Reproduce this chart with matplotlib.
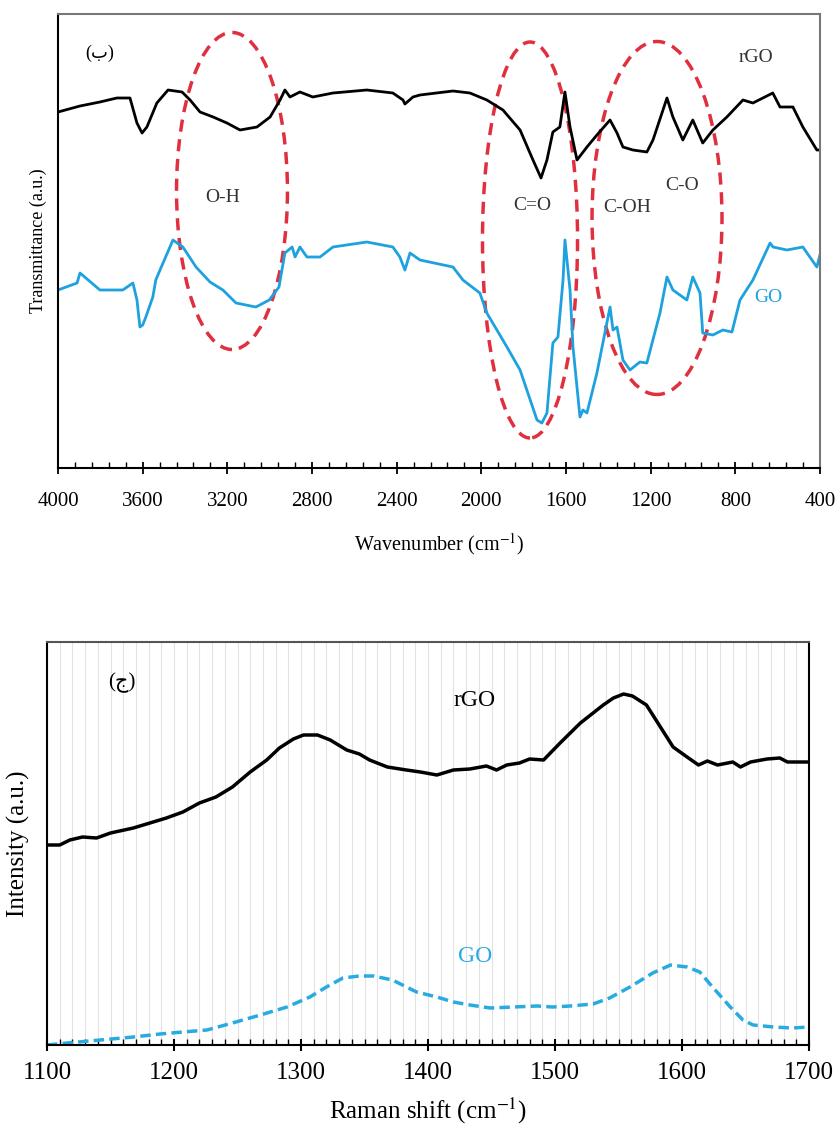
import matplotlib
matplotlib.use("Agg")
import matplotlib.pyplot as plt
from matplotlib.patches import Ellipse
from matplotlib.ticker import MultipleLocator

plt.rcParams['font.family'] = ['Liberation Serif', 'DejaVu Sans']
plt.rcParams['mathtext.fontset'] = 'stix'

# FTIR data (wavenumber cm-1, transmittance a.u.)
ftir_rgo_wn = [4000, 3896, 3802, 3722, 3660, 3627, 3603, 3580, 3533, 3480, 3414, 3376,
               3329, 3267, 3202, 3140, 3060, 2998, 2951, 2928, 2904, 2857, 2796, 2701,
               2541, 2418, 2370, 2361, 2323, 2290, 2134, 2054, 1974, 1898, 1817, 1756,
               1718, 1690, 1662, 1629, 1605, 1581, 1548, 1501, 1454, 1392, 1359, 1331,
               1284, 1218, 1189, 1123, 1095, 1048, 1001, 954, 906, 840, 764, 717, 623,
               589, 528, 481, 415, 400]
ftir_rgo_t = [356, 362, 366, 370, 370, 345, 335, 341, 365, 378, 376, 368,
              356, 351, 345, 338, 341, 351, 368, 378, 371, 376, 371, 375,
              378, 375, 368, 364, 371, 373, 377, 375, 368, 358, 338, 308,
              290, 308, 336, 341, 376, 341, 308, 321, 333, 348, 335, 321,
              318, 316, 328, 370, 351, 328, 348, 325, 338, 351, 368, 365, 375,
              361, 361, 341, 318, 318]

ftir_go_wn = [4000, 3910, 3896, 3802, 3694, 3646, 3627, 3613, 3600, 3585, 3552, 3538,
              3518, 3457, 3410, 3348, 3282, 3221, 3159, 3065, 3002, 2956, 2928, 2894,
              2880, 2857, 2824, 2762, 2701, 2541, 2418, 2385, 2361, 2337, 2290, 2134,
              2087, 2007, 1974, 1879, 1817, 1737, 1714, 1690, 1662, 1638, 1614, 1605,
              1581, 1567, 1534, 1520, 1501, 1454, 1392, 1378, 1359, 1331, 1298, 1251,
              1218, 1156, 1123, 1095, 1029, 1001, 967, 954, 906, 859, 816, 778, 717,
              636, 622, 556, 481, 415, 400]
ftir_go_t = [178, 185, 195, 178, 178, 185, 168, 141, 143, 151, 171, 188,
             198, 228, 221, 201, 186, 178, 165, 161, 168, 181, 215, 221,
             211, 221, 211, 211, 221, 226, 221, 211, 198, 215, 208, 201,
             188, 175, 155, 121, 98, 48, 45, 55, 125, 131, 188, 228,
             178, 121, 51, 58, 55, 95, 161, 138, 141, 108, 98, 106,
             105, 155, 191, 178, 168, 191, 175, 135, 133, 138, 136, 168, 188,
             225, 221, 218, 221, 201, 213]

# Raman data (Raman shift cm-1, intensity a.u.)
raman_rgo_x = [1100, 1110, 1118, 1128, 1139, 1150, 1168, 1181, 1194, 1207, 1220, 1233,
               1246, 1260, 1273, 1283, 1294, 1302, 1313, 1323, 1336, 1346, 1354, 1368,
               1383, 1394, 1407, 1420, 1433, 1446, 1454, 1462, 1472, 1480, 1491, 1504,
               1520, 1538, 1546, 1554, 1561, 1572, 1583, 1593, 1604, 1613, 1620, 1628,
               1640, 1646, 1654, 1667, 1677, 1683, 1700]
raman_rgo_y = [200, 200, 205, 208, 207, 212, 217, 222, 227, 233, 242, 248,
               258, 273, 285, 297, 306, 310, 310, 305, 295, 291, 285, 278,
               275, 273, 270, 275, 276, 279, 275, 280, 282, 286, 285, 302,
               322, 340, 347, 351, 349, 340, 318, 298, 288, 280, 284, 280,
               283, 278, 283, 286, 287, 283, 283]

raman_go_x = [1100, 1116, 1142, 1168, 1189, 1207, 1226, 1246, 1268, 1289, 1307, 1320,
              1333, 1346, 1357, 1372, 1391, 1407, 1420, 1433, 1449, 1467, 1486, 1498,
              1512, 1530, 1543, 1559, 1577, 1591, 1604, 1614, 1624, 1638, 1648, 1656,
              1672, 1687, 1700]
raman_go_y = [0, 2, 5, 8, 11, 13, 15, 22, 30, 38, 48, 58,
              67, 69, 69, 65, 53, 48, 43, 40, 37, 38, 39, 38,
              39, 41, 47, 58, 72, 80, 78, 73, 58, 38, 25, 20,
              18, 17, 18]

fig = plt.figure(figsize=(8.37, 11.33), dpi=100)

# ---------- FTIR panel ----------
ax1 = fig.add_axes([58 / 837, 1 - 468 / 1133, 762 / 837, 454 / 1133])
ax1.plot(ftir_rgo_wn, ftir_rgo_t, color='black', lw=2.0)
ax1.plot(ftir_go_wn, ftir_go_t, color='#1da1df', lw=2.0)
ax1.set_xlim(4000, 400)
ax1.set_ylim(0, 454)
ax1.xaxis.set_major_locator(MultipleLocator(400))
ax1.xaxis.set_minor_locator(MultipleLocator(80))
ax1.tick_params(axis='x', which='major', direction='inout', length=8, width=1.3,
                labelsize=15, pad=13)
ax1.tick_params(axis='x', which='minor', direction='in', length=4, width=1.0)
ax1.set_yticks([])
for s in ['left', 'bottom']:
    ax1.spines[s].set_color('black')
    ax1.spines[s].set_linewidth(1.5)
for s in ['top', 'right']:
    ax1.spines[s].set_color('#777777')
    ax1.spines[s].set_linewidth(1.5)
ax1.set_xlabel('Wavenumber (cm$^{-1}$)', fontsize=14.5, labelpad=15)
ax1.set_ylabel('Transmittance (a.u.)', fontsize=13, labelpad=8)

red = '#e0303f'
for cx, cy, w, h in [(3178, 277, 524, 317), (1770, 228, 449, 396), (1170, 250, 614, 353)]:
    ax1.add_patch(Ellipse((cx, cy), w, h, fill=False, edgecolor=red, lw=2.5,
                          linestyle=(0, (3.5, 2.2))))

ax1.text(3802, 415, '(ب)', fontsize=13, ha='center', va='center')
ax1.text(3221, 270, 'O-H', fontsize=14, ha='center', va='center', color='#333333')
ax1.text(1761, 263, 'C=O', fontsize=14, ha='center', va='center', color='#333333')
ax1.text(1312, 261, 'C-OH', fontsize=14, ha='center', va='center', color='#333333')
ax1.text(1052, 283, 'C-O', fontsize=14, ha='center', va='center', color='#333333')
ax1.text(703, 410, 'rGO', fontsize=14, ha='center', va='center', color='#333333')
ax1.text(646, 170, 'GO', fontsize=14, ha='center', va='center', color='#1da1df')

# ---------- Raman panel ----------
ax2 = fig.add_axes([47 / 837, 1 - 1045 / 1133, 762 / 837, 403 / 1133])
ax2.plot(raman_rgo_x, raman_rgo_y, color='black', lw=2.5)
ax2.plot(raman_go_x, raman_go_y, color='#29abe2', lw=2.5, linestyle=(0, (3, 1.5)))
ax2.set_xlim(1100, 1700)
ax2.set_ylim(0, 403)
ax2.xaxis.set_major_locator(MultipleLocator(100))
ax2.xaxis.set_minor_locator(MultipleLocator(10))
ax2.grid(True, which='both', axis='x', color='#e2e2e2', lw=0.8)
ax2.set_axisbelow(True)
ax2.tick_params(axis='x', which='major', direction='inout', length=9, width=1.5,
                labelsize=18, pad=8)
ax2.tick_params(axis='x', which='minor', direction='in', length=4, width=1.0)
ax2.set_yticks([])
for s in ['left', 'bottom', 'right']:
    ax2.spines[s].set_color('black')
    ax2.spines[s].set_linewidth(1.5)
ax2.spines['top'].set_color('#555555')
ax2.spines['top'].set_linewidth(1.5)
ax2.set_xlabel('Raman shift (cm$^{-1}$)', fontsize=18, labelpad=8)
ax2.set_ylabel('Intensity (a.u.)', fontsize=18, labelpad=12)

ax2.text(1159, 362, '(ج)', fontsize=15, ha='center', va='center')
ax2.text(1437, 345, 'rGO', fontsize=17, ha='center', va='center')
ax2.text(1437, 88, 'GO', fontsize=17, ha='center', va='center', color='#29abe2')

fig.savefig('out.png', dpi=100)
